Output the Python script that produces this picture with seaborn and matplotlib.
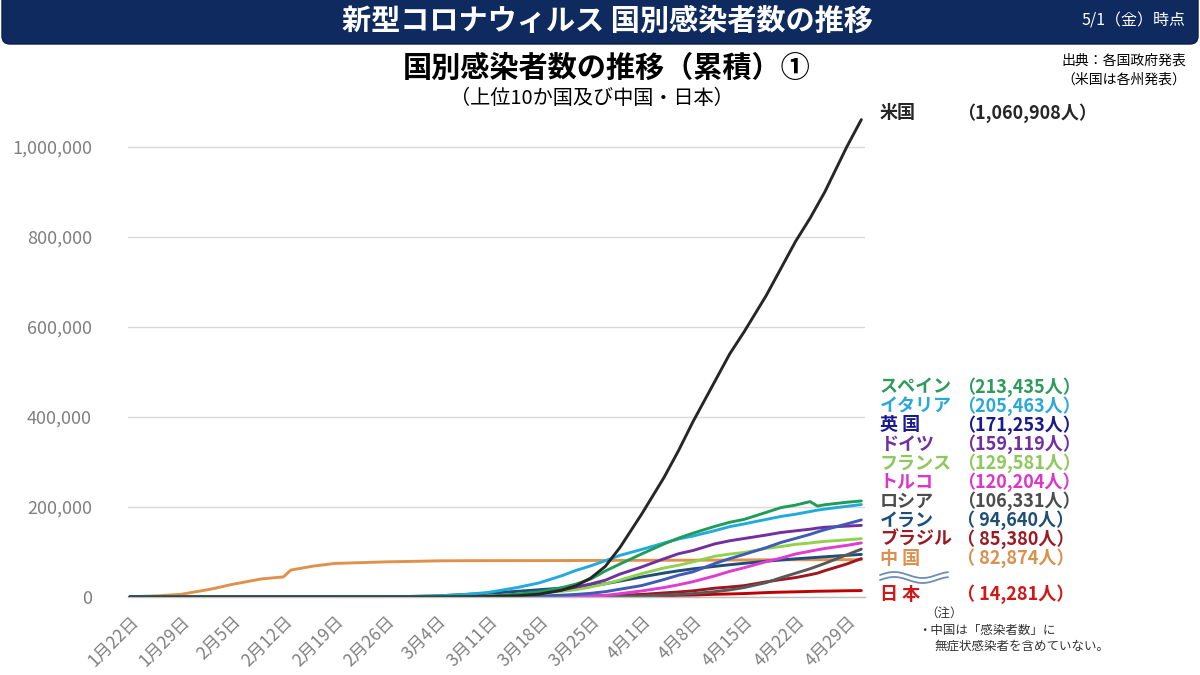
# plot.py
# This script redraws the cumulative infections-by-country line chart (as of 5/1).

# Import numpy for the decorative wave mark.
import numpy as np

# Import pandas for building the long-form table.
import pandas as pd

# Import matplotlib for figure-level layout and text.
import matplotlib.pyplot as plt

# Import patches and lines for the header bar and break mark.
from matplotlib.patches import FancyBboxPatch
from matplotlib.lines import Line2D

# Import seaborn for the line plot.
import seaborn as sns

# Define the dates that the values were read at.
dates = ["2020-01-22", "2020-01-26", "2020-01-29", "2020-02-02", "2020-02-05", "2020-02-09",
         "2020-02-12", "2020-02-13", "2020-02-16", "2020-02-19", "2020-02-26", "2020-03-04",
         "2020-03-08", "2020-03-11", "2020-03-15", "2020-03-18", "2020-03-21", "2020-03-23",
         "2020-03-25", "2020-03-27", "2020-03-29", "2020-04-01", "2020-04-04", "2020-04-06",
         "2020-04-08", "2020-04-11", "2020-04-13", "2020-04-15", "2020-04-18", "2020-04-20",
         "2020-04-22", "2020-04-24", "2020-04-25", "2020-04-26", "2020-04-29", "2020-05-01"]

# Cumulative cases per country.
china = [548, 2744, 5974, 17205, 28018, 40171, 44653, 59804, 68500, 74576, 78064, 80270,
         80695, 80778, 80844, 80894, 81008, 81093, 81218, 81340, 81439, 81554, 81669, 81740,
         81802, 81953, 82160, 82295, 82719, 82747, 82788, 82816, 82827, 82830, 82858, 82874]
japan = [1, 4, 7, 20, 22, 26, 28, 29, 53, 73, 164, 268, 455, 581, 780, 878, 1007, 1089,
         1193, 1387, 1693, 2178, 2935, 3654, 4257, 6005, 6748, 7645, 9787, 10797, 11512,
         12368, 12829, 13031, 13895, 14281]
brazil = [0, 0, 0, 0, 0, 0, 0, 0, 0, 0, 1, 2, 19, 31, 151, 321, 904, 1593, 2247, 2985,
          3904, 5717, 9056, 11130, 13717, 19638, 22192, 25262, 33682, 38654, 43079, 49492,
          52995, 58509, 73235, 85380]
iran = [0, 0, 0, 0, 0, 0, 0, 0, 0, 0, 95, 2336, 5823, 8042, 12729, 16169, 19644, 21638,
        24811, 29406, 35408, 44605, 53183, 58226, 62589, 68192, 71686, 74877, 79494, 82211,
        84802, 87026, 88194, 89328, 92584, 94640]
russia = [0, 0, 0, 2, 2, 2, 2, 2, 2, 2, 2, 3, 17, 20, 63, 93, 199, 367, 495, 840, 1264,
          2337, 4149, 5389, 7497, 11917, 15770, 21102, 32008, 42853, 52763, 62773, 68622,
          74588, 93558, 106331]
turkey = [0, 0, 0, 0, 0, 0, 0, 0, 0, 0, 0, 0, 0, 0, 5, 47, 670, 1236, 1872, 3629, 7402,
          13531, 20921, 27069, 34109, 47029, 56956, 65111, 78546, 86306, 95591, 101790,
          104912, 107773, 114653, 120204]
france = [0, 0, 0, 6, 6, 11, 11, 11, 12, 12, 18, 191, 949, 1784, 4480, 7699, 12632, 16176,
          22302, 29155, 37575, 52128, 64338, 70478, 78167, 90676, 95403, 99000, 108000,
          112000, 117000, 120000, 122000, 123500, 127000, 129581]
germany = [0, 0, 0, 10, 12, 14, 16, 16, 16, 16, 21, 159, 670, 1176, 3675, 7272, 15320,
           22213, 29056, 37323, 50871, 66885, 84794, 96092, 103374, 118181, 124908, 130072,
           137698, 143342, 147065, 150648, 153129, 154999, 157500, 159119]
uk = [0, 0, 0, 2, 2, 8, 9, 9, 9, 9, 13, 51, 206, 382, 1143, 1960, 4014, 5745, 8164, 11812,
      17312, 25481, 38689, 48436, 55949, 74605, 85206, 94845, 109769, 121172, 130172,
      139246, 144640, 149569, 162350, 171253]
italy = [0, 0, 0, 0, 0, 0, 0, 0, 0, 3, 322, 2502, 5883, 10149, 21157, 31506, 47021, 59138,
         69176, 80589, 92472, 105792, 119827, 128948, 135586, 147577, 156363, 162488, 172434,
         178972, 183957, 189973, 192994, 195351, 201505, 205463]
spain = [0, 0, 0, 0, 0, 0, 0, 0, 0, 0, 10, 165, 500, 1695, 6391, 11748, 20410, 28768, 39885,
         57786, 73235, 95923, 117710, 130759, 141942, 157022, 166019, 172541, 188068, 198674,
         204178, 212000, 202000, 205000, 210500, 213435]
usa = [1, 5, 5, 8, 12, 12, 13, 14, 15, 15, 60, 110, 420, 1000, 2700, 6500, 15000, 25000,
       42000, 68000, 110000, 185000, 265000, 325000, 390000, 480000, 540000, 590000, 670000,
       730000, 790000, 842000, 871000, 900000, 1000000, 1060908]

# Country names in drawing order (US drawn last, on top).
countries = ["中国", "日本", "ブラジル", "イラン", "ロシア", "トルコ", "フランス", "ドイツ",
             "英国", "イタリア", "スペイン", "米国"]

# Series lists in the same order as the names.
series = [china, japan, brazil, iran, russia, turkey, france, germany, uk, italy, spain, usa]

# Line colours per country.
line_colors = ["#E0914C", "#C00000", "#9E1620", "#1F4E79", "#595959", "#E03CD2",
               "#92D050", "#7030A0", "#3F5BB5", "#22AADB", "#1F9D58", "#262626"]

# Right-hand label names (top to bottom).
label_names = ["スペイン", "イタリア", "英 国", "ドイツ", "フランス", "トルコ", "ロシア",
               "イラン", "ブラジル", "中 国"]

# Right-hand label values (top to bottom).
label_values = ["（213,435人）", "（205,463人）", "（171,253人）", "（159,119人）",
                "（129,581人）", "（120,204人）", "（106,331人）", "（ 94,640人）",
                "（ 85,380人）", "（ 82,874人）"]

# Right-hand label colours (top to bottom).
label_colors = ["#2E9B5C", "#2AA8D8", "#1A1A8C", "#7030A0", "#8CC85A", "#DD35C8",
                "#4D4D4D", "#1F4E79", "#9B1B22", "#D8914F"]

# Build the long-form DataFrame for seaborn.
df = pd.DataFrame({
    "date": pd.to_datetime(dates * len(countries)),
    "cases": [v for s in series for v in s],
    "country": [c for c in countries for _ in dates],
})

# Use a Japanese font with DejaVu as fallback.
sns.set_style("white")
plt.rcParams["font.family"] = ["Noto Sans CJK JP", "DejaVu Sans"]

# Create the figure at 1200x675 pixels.
fig = plt.figure(figsize=(12, 6.75), dpi=100)

# Place the axes where the plot area sits in the reference.
ax = fig.add_axes([128 / 1200, 78 / 675, 737 / 1200, 495 / 675])

# Draw every country line with seaborn.
sns.lineplot(data=df, x="date", y="cases", hue="country", hue_order=countries,
             palette=dict(zip(countries, line_colors)), linewidth=2.1, legend=False, ax=ax)

# Set axis limits.
ax.set_ylim(0, 1100000)
ax.set_xlim(pd.Timestamp("2020-01-21 18:00"), pd.Timestamp("2020-05-01 12:00"))

# Horizontal gridlines every 200,000.
ax.set_yticks(range(0, 1000001, 200000))
ax.set_yticklabels([f"{v:,}" for v in range(0, 1000001, 200000)])
ax.yaxis.grid(True, color="#D9D9D9", linewidth=1)
ax.xaxis.grid(False)

# Weekly ticks on the x-axis with Japanese date labels.
week_ticks = pd.date_range("2020-01-22", "2020-04-29", freq="7D")
ax.set_xticks(week_ticks)
ax.set_xticklabels([f"{d.month}月{d.day}日" for d in week_ticks], rotation=45, ha="right",
                   rotation_mode="anchor")

# Style the ticks and labels.
ax.tick_params(axis="y", length=0, pad=26, labelsize=13, labelcolor="#808080")
ax.tick_params(axis="x", length=5, color="#BFBFBF", width=1, pad=6, labelsize=12.5,
               labelcolor="#808080", direction="out")

# Remove axis titles.
ax.set_xlabel("")
ax.set_ylabel("")

# Keep only a light bottom spine.
for side in ["left", "right", "top"]:
    ax.spines[side].set_visible(False)
ax.spines["bottom"].set_color("#BFBFBF")
ax.spines["bottom"].set_linewidth(1)

# Draw the navy header bar.
fig.patches.append(FancyBboxPatch((2, 631), 1196, 80, boxstyle="round,pad=0,rounding_size=8",
                                  transform=None, facecolor="#0E2A5E", edgecolor="#0A1E45",
                                  linewidth=1, zorder=0))

# Header title text.
fig.text(607 / 1200, 1 - 21 / 675, "新型コロナウィルス 国別感染者数の推移", color="white",
         fontsize=21, fontweight="bold", ha="center", va="center")

# Header date text.
fig.text(1186 / 1200, 1 - 21 / 675, "5/1（金）時点", color="white", fontsize=11.5,
         ha="right", va="center")

# Chart title.
fig.text(607 / 1200, 1 - 68 / 675, "国別感染者数の推移（累積）①", color="black",
         fontsize=21, fontweight="bold", ha="center", va="center")

# Chart subtitle.
fig.text(592 / 1200, 1 - 99 / 675, "（上位10か国及び中国・日本）", color="black",
         fontsize=14.5, ha="center", va="center")

# Source note at top right.
fig.text(1186 / 1200, 1 - 61 / 675, "出典：各国政府発表", color="black", fontsize=10,
         ha="right", va="center")
fig.text(1186 / 1200, 1 - 80 / 675, "（米国は各州発表）", color="black", fontsize=10,
         ha="right", va="center")

# US label next to the top of its line.
fig.text(880 / 1200, 1 - 113 / 675, "米国", color="#262626", fontsize=13,
         fontweight="bold", ha="left", va="center")
fig.text(957 / 1200, 1 - 113 / 675, "（1,060,908人）", color="#262626", fontsize=13,
         fontweight="bold", ha="left", va="center")

# Country labels stacked on the right.
for i, (name, value, color) in enumerate(zip(label_names, label_values, label_colors)):
    y = 1 - (387 + i * 19) / 675
    fig.text(880 / 1200, y, name, color=color, fontsize=13, fontweight="bold",
             ha="left", va="center")
    fig.text(957 / 1200, y, value, color=color, fontsize=13, fontweight="bold",
             ha="left", va="center")

# Wavy break mark between China and Japan (two thin waves).
wave_x = np.linspace(0, 1, 60)
for offset in [0, 5]:
    fig.add_artist(Line2D((880 + 68 * wave_x) / 1200,
                          1 - (575 + offset - 3 * np.sin(wave_x * 2 * np.pi * 1.2)) / 675,
                          color="#6E8DB5", linewidth=1.3, transform=fig.transFigure))

# Japan label.
fig.text(880 / 1200, 1 - 594 / 675, "日 本", color="#D01818", fontsize=13,
         fontweight="bold", ha="left", va="center")
fig.text(957 / 1200, 1 - 594 / 675, "（ 14,281人）", color="#D01818", fontsize=13,
         fontweight="bold", ha="left", va="center")

# Footnote under the labels.
fig.text(925 / 1200, 1 - 613 / 675, "（注）", color="#333333", fontsize=9,
         ha="left", va="center")
fig.text(918 / 1200, 1 - 630 / 675, "・中国は「感染者数」に", color="#333333", fontsize=9,
         ha="left", va="center")
fig.text(934 / 1200, 1 - 646 / 675, "無症状感染者を含めていない。", color="#333333",
         fontsize=9, ha="left", va="center")

# Save the chart to disk.
fig.savefig("out.png", dpi=100)

# Close the figure to free memory.
plt.close(fig)
